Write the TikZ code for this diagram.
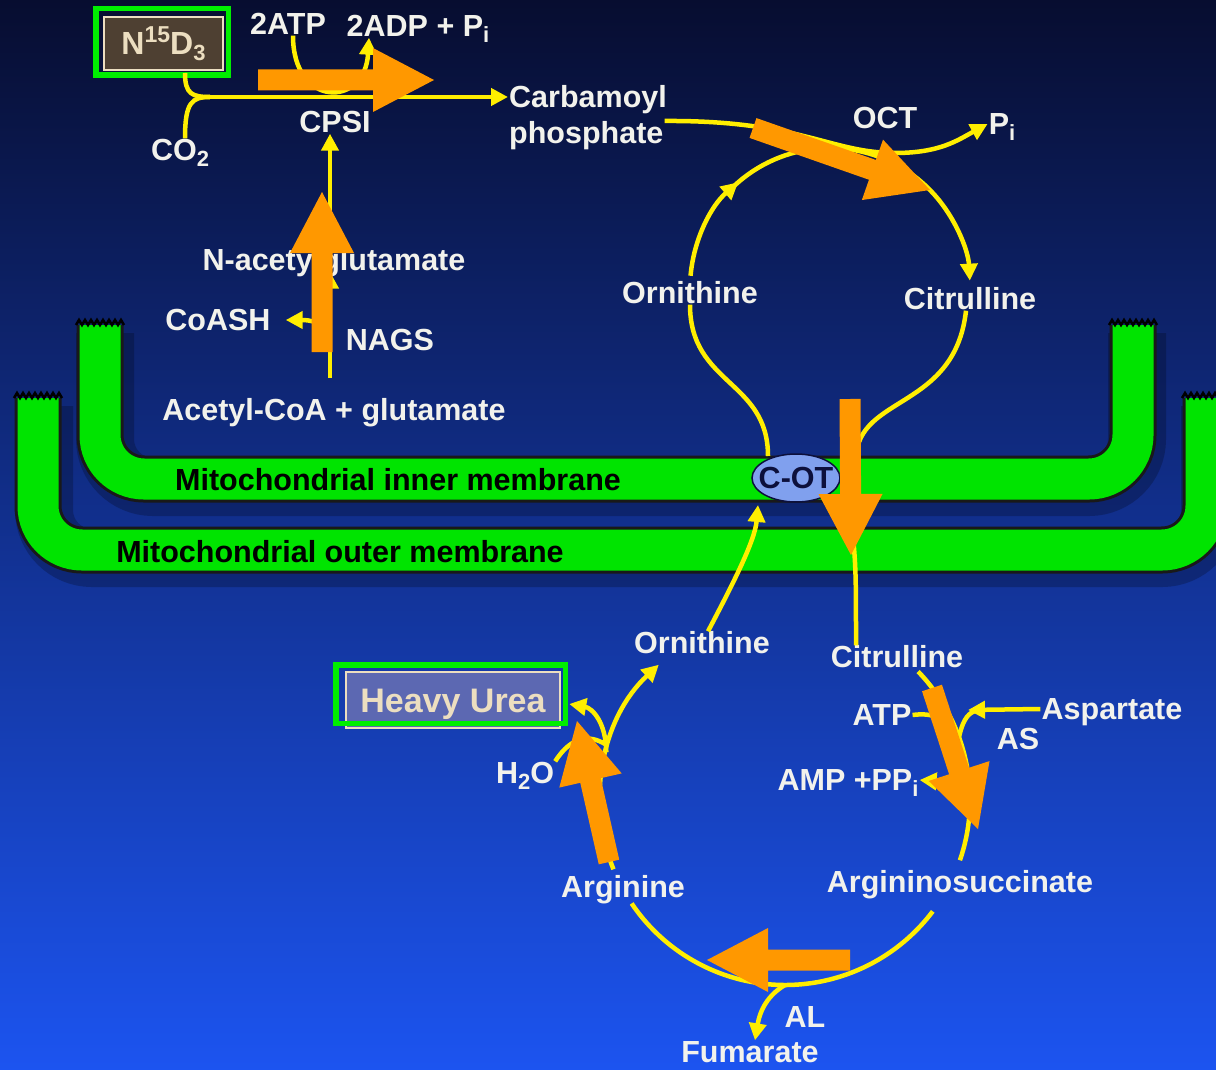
\documentclass[tikz,border=0pt]{standalone}
\usepackage{fontspec}
\setmainfont{Liberation Sans}
\usetikzlibrary{arrows.meta,calc}

\definecolor{bgtop}{RGB}{7,13,48}
\definecolor{bgmid}{RGB}{17,40,140}
\definecolor{bgbot}{RGB}{28,84,240}
\definecolor{rxnyellow}{RGB}{255,238,0}
\definecolor{memgreen}{RGB}{0,228,0}
\definecolor{framegreen}{RGB}{0,238,0}
\definecolor{hiorange}{RGB}{255,152,0}
\definecolor{lblwhite}{RGB}{242,242,236}
\definecolor{beige}{RGB}{236,222,192}
\definecolor{cotblue}{RGB}{128,160,238}
\definecolor{cotnavy}{RGB}{12,16,60}
\definecolor{n15brown}{RGB}{78,64,50}
\definecolor{ureafill}{RGB}{92,104,178}

\tikzset{
  lbl/.style={text=lblwhite, font=\fontsize{30.5}{35}\selectfont\bfseries,
    inner sep=1pt, text height=21pt, text depth=0pt},
  memlbl/.style={lbl, text=black},
  rxn/.style={draw=rxnyellow, line width=4.5pt},
  arr/.style={rxn, -{Triangle[length=17pt,width=17pt]}},
  memedge/.style={draw=black!90, line width=47pt, rounded corners=44pt},
  memfill/.style={draw=memgreen, line width=41pt, rounded corners=44pt},
  memshade/.style={draw=black, opacity=0.22, line width=58pt, rounded corners=48pt},
  jag/.style={draw=black, line width=2.5pt},
  tagbox/.style={draw=beige, line width=2.5pt, text=beige, inner sep=0pt},
  greenframe/.style={draw=framegreen, line width=5.5pt},
  hilite/.style={fill=hiorange}
}

% sub- and superscripts in the label font
\newcommand\lsub[1]{\raisebox{-0.35ex}{\fontsize{22}{22}\selectfont #1}}
\newcommand\lsup[1]{\raisebox{0.75ex}{\fontsize{23}{23}\selectfont #1}}
% orange block arrow from #1 to its tip #2
\newcommand\hiarrow[2]{%
  \path (#1) coordinate (ha) (#2) coordinate (hb);
  \path ($(hb)!61pt!(ha)$) coordinate (hm);
  \fill[hilite] ($(ha)!10.5pt!90:(hb)$) -- ($(hm)!10.5pt!90:(hb)$)
    -- ($(hm)!32pt!90:(hb)$) -- (hb) -- ($(hm)!32pt!-90:(hb)$)
    -- ($(hm)!10.5pt!-90:(hb)$) -- ($(ha)!10.5pt!-90:(hb)$) -- cycle;
}
% torn end of a membrane arm
\newcommand\jagend[1]{%
  \draw[jag] (#1) foreach \k in {1,...,8} { -- ++(3,-5) -- ++(3,5) };
}

\begin{document}
\begin{tikzpicture}[x=1pt,y=-1pt]
  \shade[top color=bgtop, middle color=bgmid, bottom color=bgbot] (0,0) rectangle (1216,1070);
  \useasboundingbox (0,0) rectangle (1216,1070);

  % membranes
  \begin{scope}[line cap=butt]
    \draw[memshade] (44,406) -- (44,558) -- (1210,558) -- (1210,406);
    \draw[memedge] (38,398) -- (38,550) -- (1206,550) -- (1206,398);
    \draw[memfill] (38,398) -- (38,550) -- (1206,550) -- (1206,398);
    \draw[memshade] (105,333) -- (105,487) -- (1137,487) -- (1137,333);
    \draw[memedge] (100,325) -- (100,479) -- (1133,479) -- (1133,325);
    \draw[memfill] (100,325) -- (100,479) -- (1133,479) -- (1133,325);
  \end{scope}
  \jagend{76,325}
  \jagend{1109,325}
  \jagend{14,398}
  \jagend{1182,398}

  % labels
  \path
    (288,24)  node[lbl] (atp2) {2ATP}
    (418,26)  node[lbl] (adp2) {2ADP + P\lsub{i}}
    (335,122) node[lbl] (cpsi) {CPSI}
    (180,150) node[lbl] (co2) {CO\lsub{2}}
    (334,260) node[lbl] (nag) {N-acetylglutamate}
    (218,320) node[lbl] (coash) {CoASH}
    (390,340) node[lbl] (nags) {NAGS}
    (334,410) node[lbl] (acoa) {Acetyl-CoA + glutamate}
    (508,97)  node[lbl, anchor=west] (carb) {Carbamoyl}
    (508,133) node[lbl, anchor=west] (phos) {phosphate}
    (885,118) node[lbl] (oct) {OCT}
    (1002,124) node[lbl] (pi) {P\lsub{i}}
    (690,293) node[lbl] (ornU) {Ornithine}
    (970,299) node[lbl] (citU) {Citrulline}
    (398,480) node[memlbl] (inner) {Mitochondrial inner membrane}
    (340,552) node[memlbl] (outer) {Mitochondrial outer membrane}
    (702,643) node[lbl] (ornL) {Ornithine}
    (897,657) node[lbl] (citL) {Citrulline}
    (882,715) node[lbl] (atp) {ATP}
    (1112,709) node[lbl] (asp) {Aspartate}
    (1018,739) node[lbl] (as) {AS}
    (848,780) node[lbl] (amp) {AMP +PP\lsub{i}}
    (525,773) node[lbl] (h2o) {H\lsub{2}O}
    (623,887) node[lbl] (arg) {Arginine}
    (960,882) node[lbl] (asuc) {Argininosuccinate}
    (805,1017) node[lbl] (al) {AL}
    (750,1052) node[lbl] (fum) {Fumarate};

  % boxed labels
  \node[tagbox, fill=n15brown, minimum width=119pt, minimum height=53pt,
    font=\fontsize{32}{36}\selectfont\bfseries, text height=23pt, text depth=0pt]
    (n15) at (163.5,43.5) {N\lsup{15}D\lsub{3}};
  \draw[greenframe] ($(n15.north west)+(-7,-7)$) rectangle ($(n15.south east)+(4,4)$);
  \node[tagbox, fill=ureafill, minimum width=214pt, minimum height=56pt,
    font=\fontsize{34}{38}\selectfont\bfseries, text height=24pt, text depth=0pt]
    (urea) at (453,700) {Heavy Urea};
  \draw[greenframe] ($(urea.north west)+(-9,-6)$) rectangle ($(urea.south east)+(4,-6)$);

  % pathways
  \coordinate (uc) at (830,288);
  \coordinate (lc) at (785,800);
  \coordinate (jn) at (210,97);
  \coordinate (cotc) at (796,478);
  \begin{scope}
    \draw[rxn] (185,73) .. controls (185,94) and (192,97) .. (jn);
    \draw[rxn] (co2.north -| 185,0) .. controls (185,102) and (192,97) .. (jn);
    \draw[arr] (jn) -- (carb.west |- jn);
    \draw[arr] (atp2.south -| 293,0) .. controls (293,108) and (365,108) .. (adp2.south -| 369,0);
    \draw[arr] (330,378) -- (nag.south -| 330,0);
    \draw[arr] (nag.north -| 330,0) -- (cpsi.south -| 330,0);
    \draw[arr] (330,334) .. controls (322,322) and (310,320) .. ($(coash.east)+(14,0)$);
    \draw[arr] (phos.east |- 0,121) .. controls (800,120) and (830,153) .. (895,153)
      .. controls (940,153) and (958,140) .. (pi.west);
    \draw[arr] ($(uc)+(185:140)$) arc[start angle=185, end angle=229, radius=140];
    \draw[rxn] ($(uc)+(227:140)$) arc[start angle=227, end angle=266, radius=140];
    \draw[arr] ($(uc)+(262:140)$) arc[start angle=262, end angle=357, radius=140];
    \draw[rxn] (ornU.south) .. controls (690,385) and (768,380) .. (768,456);
    \draw[rxn] (citU.south -| 966,0) .. controls (955,410) and (858,395) .. (856,458);
    \draw[arr] (ornL.north -| 708,0) .. controls (735,580) and (755,540) .. (758,505);
    \draw[rxn] (848,495) .. controls (856,560) .. (citL.north -| 856,0);
    \draw[rxn] ($(lc)+(316:185)$) arc[start angle=316, end angle=379, radius=185];
    \draw[rxn] ($(lc)+(37:185)$) arc[start angle=37, end angle=146, radius=185];
    \draw[arr] ($(lc)+(158:185)$) arc[start angle=158, end angle=227, radius=185];
    \draw[arr] ($(lc)+(195:185)$) .. controls (606,722) and (592,708) .. ($(urea.east)+(8,4)$);
    \draw[rxn] (h2o.north east) .. controls (572,735) and (590,735) .. (605,744);
    \draw[arr] ($(lc)+(90:185)$) .. controls (768,995) and (760,1010) .. (fum.north -| 755,0);
    \draw[arr] (asp.west) -- (968,710);
    \draw[rxn] (975,711) .. controls (966,714) and (962,724) .. (959,737);
    \draw[rxn] (atp.east) .. controls (935,712) and (948,720) .. (956,736);
    \draw[arr] (967,768) .. controls (958,780) and (945,782) .. (amp.east);
  \end{scope}

  % carrier
  \filldraw[fill=cotblue, draw=cotnavy, line width=1.5pt] (cotc) ellipse[x radius=44, y radius=24];
  \node[lbl, text=cotnavy] (cot) at (cotc) {C-OT};

  % highlights
  \hiarrow{258,80}{434,80}
  \hiarrow{322,352}{322,192}
  \hiarrow{753,128}{930,190}
  \hiarrow{850,399}{851,555}
  \hiarrow{932,688}{978,829}
  \hiarrow{609,862}{577,721}
  \hiarrow{850,960}{707,960}
\end{tikzpicture}
\end{document}
